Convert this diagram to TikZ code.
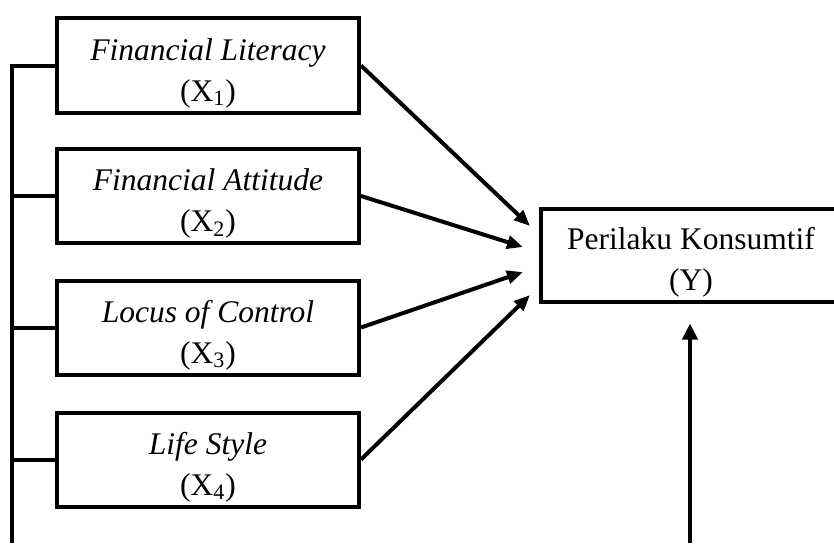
\documentclass[tikz,border=0pt]{standalone}
\usepackage{fontspec}
\setmainfont{Liberation Serif}
\usetikzlibrary{arrows.meta}
\tikzset{
    var/.style={
        draw, line width=2pt, align=center,
        minimum width=151pt, minimum height=47.5pt, inner sep=0pt,
        font=\fontsize{15.75}{20.5}\selectfont,
        text height=39pt
    },
    link/.style={line width=2pt},
    arr/.style={line width=2pt, -{Triangle[length=8pt,width=6.5pt]}}
}

\begin{document}
\begin{tikzpicture}[x=0.5pt, y=-0.5pt]
    \clip (0,0) rectangle (834,543);

    % independent variables
    \node[var] (x1) at (208,65.5) {\textit{Financial Literacy}\\(X\textsubscript{1})};
    \node[var, minimum height=47pt] (x2) at (208,196) {\textit{Financial Attitude}\\(X\textsubscript{2})};
    \node[var, minimum height=47pt] (x3) at (208,327.5) {\textit{Locus of Control}\\(X\textsubscript{3})};
    \node[var, minimum height=47pt] (x4) at (208,459.5) {\textit{Life Style}\\(X\textsubscript{4})};

    % dependent variable
    \node[var, minimum width=150pt, minimum height=46.5pt] (y) at (691,255) {Perilaku Konsumtif\\(Y)};

    % arrows to Y
    \coordinate (t1) at (530,226);
    \coordinate (t2) at (523,247);
    \coordinate (t3) at (523,272);
    \coordinate (t4) at (530,295);
    \foreach \i in {1,...,4}
        \draw[arr] (x\i.east) -- (t\i);

    % left bus
    \coordinate (bus) at (12,543);
    \draw[link] (x1.west) -| (bus);
    \foreach \i in {2,3,4}
        \draw[link] (x\i.west) -- (x\i.west -| bus);

    % bottom arrow
    \coordinate (ext) at (690,543);
    \draw[arr, -{Triangle[length=8pt,width=7.5pt]}, shorten >=10pt] (ext) -- (ext |- y.south);
\end{tikzpicture}
\end{document}
